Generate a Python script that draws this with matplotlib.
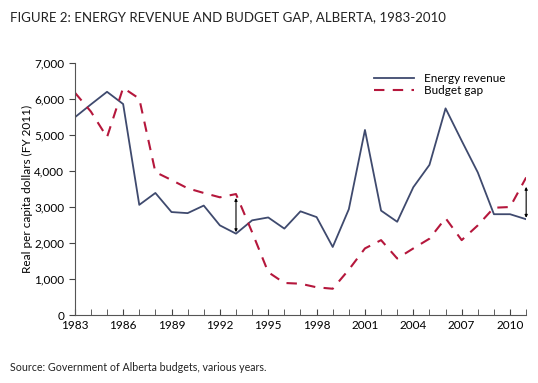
import matplotlib.pyplot as plt
import numpy as np

plt.rcParams['font.family'] = ['Lato', 'DejaVu Sans']

years = list(range(1983, 2012))
energy_revenue = [5490, 5850, 6200, 5860, 3060, 3390, 2860, 2830, 3040, 2490,
                  2260, 2630, 2710, 2400, 2880, 2720, 1890, 2940, 5140, 2900,
                  2590, 3550, 4170, 5740, 4840, 3960, 2800, 2800, 2660]
budget_gap = [6180, 5650, 4940, 6310, 6010, 3970, 3750, 3520, 3390, 3270,
              3360, 2300, 1190, 890, 870, 770, 730, 1260, 1850, 2080,
              1570, 1850, 2120, 2690, 2080, 2490, 2980, 3000, 3820]
tick_years = list(range(1983, 2011, 3))
yticks = list(range(0, 7001, 1000))

# double arrows marking the gap
arrow_years = [1993, 2011]
arrow_low = [2300, 2700]
arrow_high = [3250, 3560]

fig = plt.figure(figsize=(5.38, 3.83), dpi=100)
ax = fig.add_axes([0.139, 0.1775, 0.839, 0.658])

ax.plot(years, energy_revenue, color='#3f4a6e', lw=1.3, label='Energy revenue')
ax.plot(years, budget_gap, color='#b5173c', lw=1.5, ls=(0, (5, 4)), label='Budget gap')

for x, lo, hi in zip(arrow_years, arrow_low, arrow_high):
    ax.annotate('', xy=(x, hi), xytext=(x, lo),
                arrowprops=dict(arrowstyle='<|-|>', color='black', lw=0.8,
                                mutation_scale=4, shrinkA=0, shrinkB=0))

ax.set_xlim(1983, 2011)
ax.set_ylim(0, 7000)
ax.set_yticks(yticks)
ax.set_yticklabels([f'{v:,}' for v in yticks], fontsize=8.5)
ax.set_xticks(years, minor=True)
ax.set_xticks(tick_years)
ax.set_xticklabels([str(y) for y in tick_years], fontsize=8.5)
ax.tick_params(axis='x', which='both', direction='in', length=4, color='#444444')
ax.tick_params(axis='y', direction='out', length=4, color='#444444')
for s in ['top', 'right']:
    ax.spines[s].set_visible(False)
for s in ['left', 'bottom']:
    ax.spines[s].set_color('#555555')
ax.set_ylabel('Real per capita dollars (FY 2011)', fontsize=8.5, labelpad=1)

ax.legend(loc='upper left', bbox_to_anchor=(0.662, 0.96), frameon=False,
          fontsize=8.5, handlelength=3.4, handletextpad=0.9, labelspacing=0.05,
          borderpad=0, borderaxespad=0)

fig.text(0.018, 0.955, 'FIGURE 2: ENERGY REVENUE AND BUDGET GAP, ALBERTA, 1983-2010',
         fontsize=9.5, color='#222222', va='center')
fig.text(0.018, 0.04, 'Source: Government of Alberta budgets, various years.',
         fontsize=7.7, color='#222222', va='center')

fig.savefig('out.png', dpi=100)
